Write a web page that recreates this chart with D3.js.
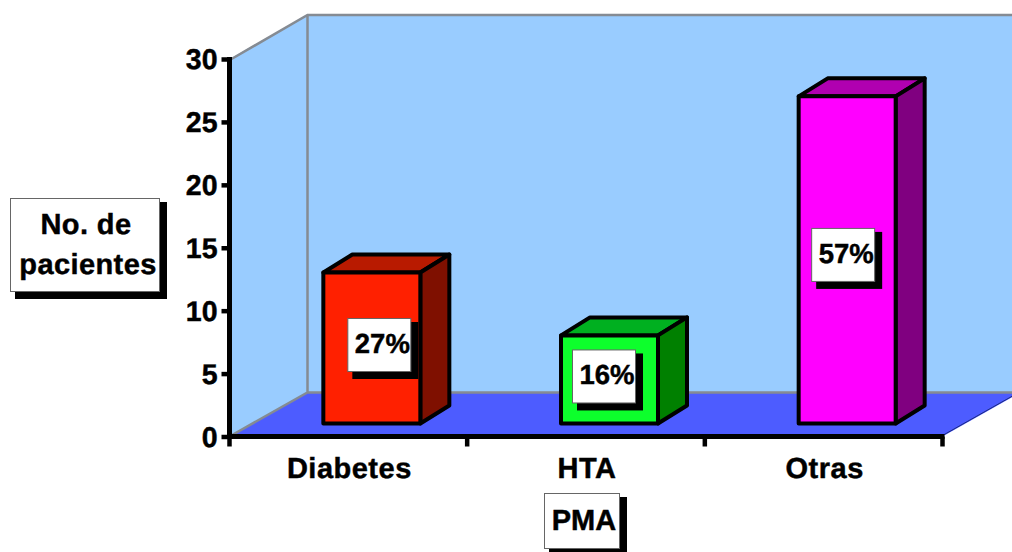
<!DOCTYPE html>
<html>
<head>
<meta charset="utf-8">
<script src="https://cdn.jsdelivr.net/npm/d3@7"></script>
<style>
  html, body { margin: 0; padding: 0; background: #fff; }
  svg { display: block; }
  text { font-family: "Liberation Sans", Arial, sans-serif; font-weight: bold; fill: #000; stroke: #000; stroke-width: 0.45px; text-rendering: geometricPrecision; }
</style>
</head>
<body>
<svg id="chart" width="1012" height="552"></svg>
<script>
// Chart data
const categories = ["Diabetes", "HTA", "Otras"];
const patientCounts = [12, 7, 26];
const shareLabels = ["27%", "16%", "57%"];
const yTicks = [0, 5, 10, 15, 20, 25, 30];
const yTitleLines = ["No. de", "pacientes"];
const xTitle = "PMA";

// Face colours per bar: front, top, side
const barFront = ["#ff2000", "#0dff2c", "#ff00ff"];
const barTop = ["#b81a00", "#00b020", "#b000b0"];
const barSide = ["#7f1000", "#008000", "#800080"];

// Layout of the pseudo-3D box
const W = 1012, H = 552;
const x0 = 229.5, x1 = 942.5, yBase = 436.5, yTop = 59;
const wallDx = 78, wallDy = -44;       // depth of the room
const barDx = 29, barDy = -18;         // depth of each bar
const barInsetX = 23.5, barInsetY = 13; // bar base sits inside the floor
const barWidth = 97;
const labelW = 64, labelH = 54;
const labelShift = [[7.5, -3], [-5.5, -3], [-4, -5]]; // label box offset from face centre

const svg = d3.select("#chart");
const x = d3.scaleBand().domain(categories).range([x0, x1]).padding(0);
const y = d3.scaleLinear().domain([0, 30]).range([yBase, yTop]);
const poly = pts => pts.map(p => p.join(",")).join(" ");

// Side wall, back wall and floor
const room = svg.append("g");
room.append("polygon")
  .attr("points", poly([[x0, yTop], [x0 + wallDx, yTop + wallDy], [x0 + wallDx, yBase + wallDy], [x0, yBase]]))
  .attr("fill", "#99ccff");
room.append("rect")
  .attr("x", x0 + wallDx).attr("y", yTop + wallDy)
  .attr("width", W - x0 - wallDx).attr("height", yBase - yTop)
  .attr("fill", "#99ccff");
room.append("polygon")
  .attr("points", poly([[x0, yBase], [x0 + wallDx, yBase + wallDy], [x1 + wallDx, yBase + wallDy], [x1, yBase]]))
  .attr("fill", "#4d5cff");
room.append("path")
  .attr("d", `M${x0 + 2},${yTop}L${x0 + wallDx},${yTop + wallDy}L${W},${yTop + wallDy}`
    + `M${x0 + wallDx},${yTop + wallDy}V${yBase + wallDy}`
    + `M${x0},${yBase}L${x0 + wallDx},${yBase + wallDy}H${W}`)
  .attr("fill", "none").attr("stroke", "#858b93").attr("stroke-width", 2.5);
room.append("line")
  .attr("x1", x1).attr("y1", yBase - 1).attr("x2", x1 + wallDx).attr("y2", yBase + wallDy - 1)
  .attr("stroke", "#1c2a80").attr("stroke-width", 1);

// Bars, each made of three faces
const bars = svg.append("g").selectAll("g").data(categories).join("g");
const face = { stroke: "#000", "stroke-width": 4, "stroke-linejoin": "round" };
function styleFace(sel) {
  Object.entries(face).forEach(([k, v]) => sel.attr(k, v));
  return sel;
}
const bx = c => x(c) + x.bandwidth() / 2 + barInsetX - barWidth / 2;
const by = i => y(patientCounts[i]) - barInsetY;
const bb = y(0) - barInsetY;

bars.append("polygon")
  .attr("points", (c, i) => poly([[bx(c), by(i)], [bx(c) + barDx, by(i) + barDy],
    [bx(c) + barWidth + barDx, by(i) + barDy], [bx(c) + barWidth, by(i)]]))
  .attr("fill", (c, i) => barTop[i]).call(styleFace);
bars.append("polygon")
  .attr("points", (c, i) => poly([[bx(c) + barWidth, by(i)], [bx(c) + barWidth + barDx, by(i) + barDy],
    [bx(c) + barWidth + barDx, bb + barDy], [bx(c) + barWidth, bb]]))
  .attr("fill", (c, i) => barSide[i]).call(styleFace);
bars.append("rect")
  .attr("x", c => bx(c)).attr("y", (c, i) => by(i))
  .attr("width", barWidth).attr("height", (c, i) => bb - by(i))
  .attr("fill", (c, i) => barFront[i]).call(styleFace);

// White label with a hard black drop shadow
function labelBox(parent, bxX, bxY, w, h) {
  parent.append("rect").attr("x", bxX + 5).attr("y", bxY + 4).attr("width", w + 2).attr("height", h + 3).attr("fill", "#000");
  parent.append("rect").attr("x", bxX + 0.5).attr("y", bxY + 0.5).attr("width", w - 1).attr("height", h - 1)
    .attr("fill", "#fff").attr("stroke", "#666").attr("stroke-width", 1);
}

bars.each(function (c, i) {
  const g = d3.select(this);
  const cx = bx(c) + barWidth / 2 + labelShift[i][0];
  const cy = (by(i) + bb) / 2 + labelShift[i][1];
  labelBox(g, cx - labelW / 2, cy - labelH / 2, labelW, labelH);
  g.append("text").attr("x", cx + 3).attr("y", cy + 8)
    .attr("text-anchor", "middle").attr("font-size", 27.5)
    .text(shareLabels[i]);
});

// Axes
const yAxis = svg.append("g").attr("transform", `translate(${x0},0)`)
  .call(d3.axisLeft(y).tickValues(yTicks).tickSize(8).tickPadding(4));
yAxis.selectAll(".tick text").attr("font-size", 28.5).attr("font-family", null).attr("dy", "0.34em");
yAxis.selectAll(".tick line").attr("stroke", "#000").attr("stroke-width", 4.5);
yAxis.select(".domain").attr("stroke", "#000").attr("stroke-width", 5).attr("d", `M0,${yTop - 2}V${yBase + 2}`);

const boundaries = [x0, ...categories.map(c => x(c) + x.bandwidth())];
const xAxis = svg.append("g").attr("transform", `translate(0,${yBase})`);
xAxis.append("line").attr("x1", x0 - 2).attr("x2", x1 + 2).attr("stroke", "#000").attr("stroke-width", 5);
xAxis.selectAll("line.tick").data(boundaries).join("line").attr("class", "tick")
  .attr("x1", d => d).attr("x2", d => d).attr("y1", 0).attr("y2", 10)
  .attr("stroke", "#000").attr("stroke-width", 4.5);
xAxis.selectAll("text").data(categories).join("text")
  .attr("x", c => x(c) + x.bandwidth() / 2 + 1).attr("y", 41.5)
  .attr("text-anchor", "middle").attr("font-size", 29).attr("letter-spacing", 0.5)
  .text(c => c);

// Axis titles
const yTitle = svg.append("g");
labelBox(yTitle, 10, 198, 150, 94);
yTitle.selectAll("text").data(yTitleLines).join("text")
  .attr("x", (d, i) => 86 + i * 2).attr("y", (d, i) => 234 + i * 39.5)
  .attr("text-anchor", "middle").attr("font-size", 29).attr("letter-spacing", 0.4)
  .text(d => d);

const xTitleGroup = svg.append("g");
labelBox(xTitleGroup, 544, 493, 76, 56);
xTitleGroup.append("text").attr("x", 584).attr("y", 530)
  .attr("text-anchor", "middle").attr("font-size", 29)
  .text(xTitle);
</script>
</body>
</html>
